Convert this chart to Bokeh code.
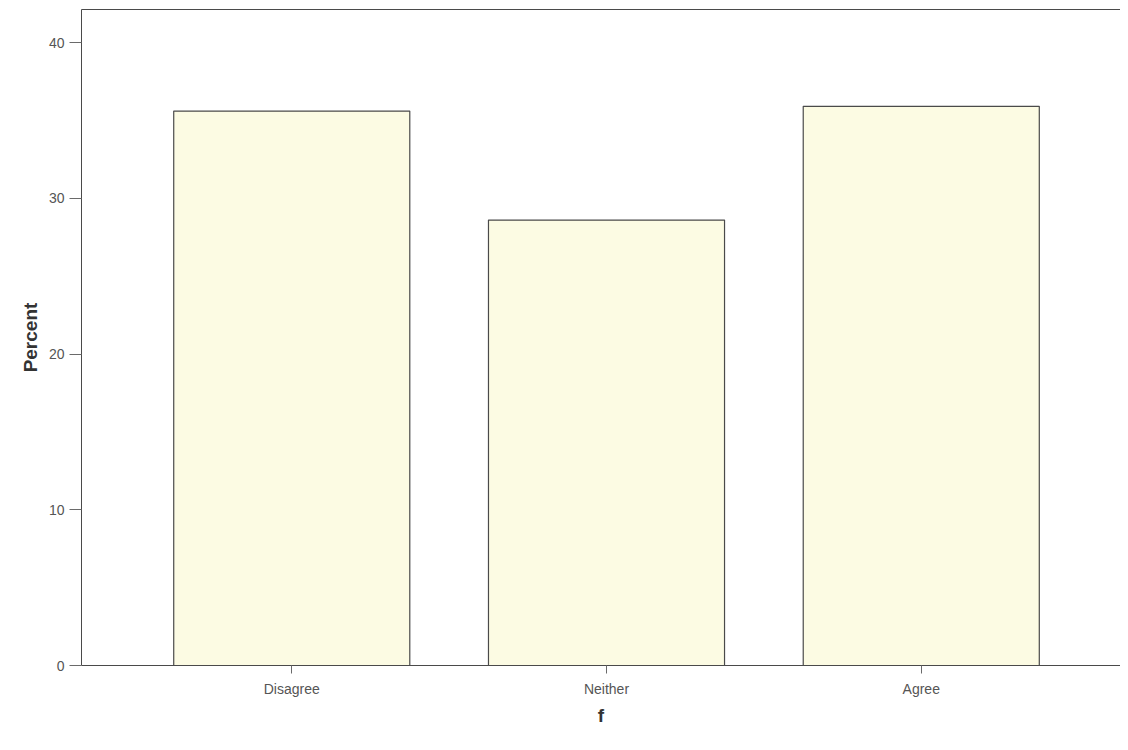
from bokeh.plotting import figure
from bokeh.models import ColumnDataSource, FixedTicker, LinearAxis, Range1d
from bokeh.embed import file_html
from bokeh.resources import INLINE

categories = ["Disagree", "Neither", "Agree"]
percent = [35.6, 28.6, 35.9]
positions = [1, 2, 3]

src = ColumnDataSource(dict(x=positions, top=percent, cat=categories))

p = figure(width=1120, height=747, output_backend="svg", toolbar_location=None,
           x_range=Range1d(0.332, 3.633), y_range=Range1d(0, 42.12),
           min_border_left=81, min_border_top=9, min_border_right=0, min_border_bottom=82)
p.outline_line_color = None
p.grid.grid_line_color = None
p.background_fill_color = "white"

p.vbar(x="x", top="top", width=0.75, bottom=0, source=src,
       fill_color="#FCFBE3", line_color="#4a4a4a", line_width=1.2)

# y axis
ya = p.yaxis[0]
ya.ticker = FixedTicker(ticks=[0, 10, 20, 30, 40])
ya.axis_label = "Percent"
ya.axis_label_text_font = "Liberation Sans"
ya.axis_label_text_font_style = "bold"
ya.axis_label_text_font_size = "19px"
ya.axis_label_text_color = "#333333"
ya.major_label_text_font = "Liberation Sans"
ya.major_label_text_font_size = "14px"
ya.major_label_text_color = "#555555"
ya.major_tick_out = 12
ya.major_tick_in = 0
ya.minor_tick_line_color = None
ya.axis_line_color = "#4a4a4a"
ya.major_tick_line_color = "#6a6a6a"

# x axis
xa = p.xaxis[0]
xa.ticker = FixedTicker(ticks=positions)
xa.major_label_overrides = {pos: c for pos, c in zip(positions, categories)}
xa.axis_label = "f"
xa.axis_label_text_font = "Liberation Sans"
xa.axis_label_text_font_style = "bold"
xa.axis_label_text_font_size = "19px"
xa.axis_label_text_color = "#333333"
xa.axis_label_standoff = 5
xa.major_label_text_font = "Liberation Sans"
xa.major_label_text_font_size = "14px"
xa.major_label_text_color = "#555555"
xa.major_label_standoff = 7
xa.major_tick_out = 8
xa.major_tick_in = 0
xa.minor_tick_line_color = None
xa.axis_line_color = "#4a4a4a"
xa.major_tick_line_color = "#6a6a6a"

# top frame line
top = LinearAxis(ticker=FixedTicker(ticks=[]), major_label_text_font_size="0px",
                 axis_line_color="#4a4a4a", major_tick_line_color=None, minor_tick_line_color=None)
p.add_layout(top, "above")

open("out.html", "w").write(file_html(p, INLINE))
